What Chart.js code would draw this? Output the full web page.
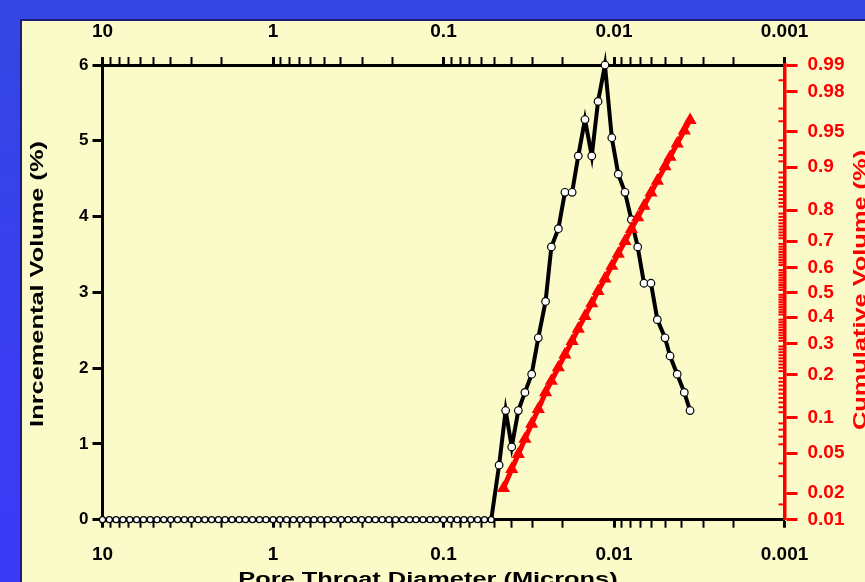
<!DOCTYPE html>
<html>
<head>
<meta charset="utf-8">
<script src="https://cdn.jsdelivr.net/npm/chart.js@4.4.1/dist/chart.umd.min.js"></script>
<style>
  html, body { margin: 0; padding: 0; }
  body { width: 865px; height: 582px; overflow: hidden; position: relative;
         background: linear-gradient(to bottom, #3447e2 0%, #3a3ef2 60%, #3b3af6 100%); }
  #panel { position: absolute; left: 20px; top: 19px; width: 900px; height: 600px;
           background: #fbfbc9; border: 2px solid #1f1a72; }
  #c { position: absolute; left: 0; top: 0; }
</style>
</head>
<body>
<div id="panel"></div>
<canvas id="c" width="865" height="582"></canvas>
<script>
// pore throat size distribution: incremental volume (black) + cumulative volume on probability axis (red)

const poreDiameter = [
  10, 9.12, 8.32, 7.59, 6.92, 6.31, 5.75, 5.25, 4.79, 4.37, 3.98, 3.63, 3.31, 3.02, 2.75, 2.51, 2.29, 2.09, 1.91, 1.74, 1.58, 1.45, 1.32, 1.20, 1.10,
  1.0, 0.912, 0.832, 0.759, 0.692, 0.631, 0.575, 0.525, 0.479, 0.437, 0.398, 0.363, 0.331, 0.302, 0.275, 0.251, 0.229, 0.209, 0.191, 0.174, 0.158, 0.145, 0.132, 0.120, 0.110,
  0.100, 0.0912, 0.0832, 0.0759, 0.0692, 0.0631, 0.0575, 0.0525,
  0.0472, 0.0432, 0.0398, 0.0364, 0.0333, 0.0304, 0.0278, 0.0252, 0.0233, 0.0212, 0.0194, 0.0176, 0.0162, 0.0148, 0.0135,
  0.0124, 0.0113, 0.0103, 0.00944, 0.00862, 0.00791, 0.00726, 0.00667, 0.00607, 0.00557, 0.00502, 0.00469, 0.00426, 0.00387, 0.00358
];
const incrementalVolume = [
  0, 0, 0, 0, 0, 0, 0, 0, 0, 0, 0, 0, 0, 0, 0, 0, 0, 0, 0, 0, 0, 0, 0, 0, 0,
  0, 0, 0, 0, 0, 0, 0, 0, 0, 0, 0, 0, 0, 0, 0, 0, 0, 0, 0, 0, 0, 0, 0, 0, 0,
  0, 0, 0, 0, 0, 0, 0, 0,
  0.72, 1.44, 0.96, 1.44, 1.68, 1.92, 2.40, 2.88, 3.60, 3.84, 4.32, 4.32, 4.80, 5.28, 4.80,
  5.52, 6.00, 5.04, 4.56, 4.32, 3.96, 3.60, 3.12, 3.12, 2.64, 2.40, 2.16, 1.92, 1.68, 1.44
];

const cumDiameter = [
  0.0445, 0.0398, 0.0364, 0.0333, 0.0304, 0.0278, 0.0252, 0.0233, 0.0212, 0.0194, 0.0176, 0.0162, 0.0148, 0.0135,
  0.0124, 0.0113, 0.0103, 0.00944, 0.00862, 0.00791, 0.00726, 0.00667, 0.00607, 0.00557, 0.00502, 0.00469, 0.00426, 0.00387, 0.00358
];
const cumulativeVolume = [
  0.0225, 0.0352, 0.0489, 0.0667, 0.0891, 0.116, 0.153, 0.182, 0.221, 0.262, 0.309, 0.354, 0.404, 0.455,
  0.505, 0.556, 0.606, 0.653, 0.700, 0.741, 0.778, 0.812, 0.846, 0.873, 0.901, 0.917, 0.936, 0.951, 0.961
];

const diameterTicks = [10, 1, 0.1, 0.01, 0.001];
const cumulativeTicks = [0.01, 0.02, 0.05, 0.1, 0.2, 0.3, 0.4, 0.5, 0.6, 0.7, 0.8, 0.9, 0.95, 0.98, 0.99];

const FONT = "'Liberation Sans', Arial, sans-serif";

// inverse normal cdf (Acklam) – used for the probability axis
function probit(p) {
  const a = [-39.69683028665376, 220.9460984245205, -275.9285104469687, 138.3577518672690, -30.66479806614716, 2.506628277459239];
  const b = [-54.47609879822406, 161.5858368580409, -155.6989798598866, 66.80131188771972, -13.28068155288572];
  const c = [-0.007784894002430293, -0.3223964580411365, -2.400758277161838, -2.549671180339187, 4.374664141464968, 2.938163982698783];
  const d = [0.007784695709041462, 0.3224671290700398, 2.445134137142996, 3.754408661907416];
  const pl = 0.02425;
  if (p < pl) {
    const q = Math.sqrt(-2 * Math.log(p));
    return (((((c[0]*q+c[1])*q+c[2])*q+c[3])*q+c[4])*q+c[5]) / ((((d[0]*q+d[1])*q+d[2])*q+d[3])*q+1);
  }
  if (p > 1 - pl) {
    const q = Math.sqrt(-2 * Math.log(1 - p));
    return -(((((c[0]*q+c[1])*q+c[2])*q+c[3])*q+c[4])*q+c[5]) / ((((d[0]*q+d[1])*q+d[2])*q+d[3])*q+1);
  }
  const q = p - 0.5, r = q * q;
  return (((((a[0]*r+a[1])*r+a[2])*r+a[3])*r+a[4])*r+a[5])*q / (((((b[0]*r+b[1])*r+b[2])*r+b[3])*r+b[4])*r+1);
}

function logTicks(scale) {
  const t = [];
  diameterTicks.forEach(d => {
    t.push({ value: d });
    if (d < 10) for (let m = 2; m <= 9; m++) t.push({ value: +(d * m).toPrecision(3) });
  });
  scale.ticks = t.sort((a, b) => a.value - b.value);
}

const xAxis = (position, height, pad) => ({
  type: "logarithmic",
  position,
  reverse: true,
  min: 0.001,
  max: 10,
  afterBuildTicks: logTicks,
  afterFit: s => { s.height = height; },
  border: { color: "#000", width: 3 },
  grid: {
    drawOnChartArea: false,
    tickLength: 8,
    tickColor: "#000",
    tickWidth: ctx => (diameterTicks.includes(ctx.tick && ctx.tick.value) ? 3 : 2),
  },
  ticks: {
    autoSkip: false,
    maxRotation: 0,
    padding: pad,
    color: "#000",
    font: { family: FONT, size: 19, weight: "bold" },
    callback: v => (diameterTicks.includes(v) ? String(v) : ""),
  },
});

// axis titles are drawn stretched along the text, like the original
const titles = {
  id: "titles",
  afterDraw(chart) {
    const ctx = chart.ctx;
    const y2 = chart.scales.y2;
    ctx.save();
    // minor ticks on the probability axis, pointing inward
    ctx.strokeStyle = "#ff0000";
    ctx.lineWidth = 2;
    for (let k = 2; k <= 98; k++) {
      const p = k / 100;
      if (cumulativeTicks.includes(p)) continue;
      const py = y2.getPixelForValue(probit(p));
      ctx.beginPath(); ctx.moveTo(y2.left - 6, py); ctx.lineTo(y2.left, py); ctx.stroke();
    }
    [0.015, 0.985].forEach(p => {
      const py = y2.getPixelForValue(probit(p));
      ctx.beginPath(); ctx.moveTo(y2.left - 6, py); ctx.lineTo(y2.left, py); ctx.stroke();
    });
    ctx.restore();

    const draw = (text, x, y, rot, color) => {
      ctx.save();
      ctx.translate(x, y);
      ctx.rotate(rot);
      ctx.scale(1.41, 1);
      ctx.font = "bold 18px " + FONT;
      ctx.fillStyle = color;
      ctx.textAlign = "center";
      ctx.textBaseline = "alphabetic";
      ctx.fillText(text, 0, 0);
      ctx.restore();
    };
    draw("Inrcemental Volume (%)", 43, 284, -Math.PI / 2, "#000");
    draw("Cumulative Volume (%)", 866, 290, -Math.PI / 2, "#ff0000");
    draw("Pore Throat Diameter (Microns)", 428, 585, 0, "#000");
  },
};

new Chart(document.getElementById("c"), {
  type: "line",
  data: {
    datasets: [
      {
        label: "Cumulative Volume",
        data: cumDiameter.map((d, i) => ({ x: d, y: probit(cumulativeVolume[i]) })),
        xAxisID: "x",
        yAxisID: "y2",
        order: 0,
        borderColor: "#ff0000",
        borderWidth: 5,
        pointStyle: "triangle",
        pointRadius: 2.6,
        pointBackgroundColor: "#ff0000",
        pointBorderColor: "#ff0000",
        tension: 0,
        clip: false,
      },
      {
        label: "Incremental Volume",
        data: poreDiameter.map((d, i) => ({ x: d, y: incrementalVolume[i] })),
        xAxisID: "x",
        yAxisID: "y",
        order: 1,
        borderColor: "#000",
        borderWidth: 4,
        borderJoinStyle: "miter",
        pointRadius: ctx => (incrementalVolume[ctx.dataIndex] === 0 ? 3 : 3.8),
        pointBackgroundColor: "#fff",
        pointBorderColor: "#000",
        pointBorderWidth: 1.2,
        tension: 0,
        clip: false,
      },
    ],
  },
  options: {
    responsive: false,
    animation: false,
    layout: { padding: 0 },
    plugins: { legend: { display: false }, tooltip: { enabled: false } },
    scales: {
      x: xAxis("bottom", 62.3, 16),
      xTop: xAxis("top", 65, 14),
      y: {
        position: "left",
        min: 0,
        max: 6,
        afterFit: s => { s.width = 102.5; },
        border: { color: "#000", width: 3 },
        grid: { drawOnChartArea: false, tickLength: 10, tickColor: "#000", tickWidth: 3 },
        ticks: { stepSize: 1, padding: 4, color: "#000", font: { family: FONT, size: 17, weight: "bold" } },
      },
      y2: {
        position: "right",
        bounds: "data",
        min: probit(0.01),
        max: probit(0.99),
        afterFit: s => { s.width = 80.5; },
        afterBuildTicks: s => { s.ticks = cumulativeTicks.map(p => ({ value: probit(p) })); },
        border: { color: "#ff0000", width: 3.5 },
        grid: { drawOnChartArea: false, tickLength: 13, tickColor: "#ff0000", tickWidth: 3 },
        ticks: {
          autoSkip: false,
          padding: 10,
          color: "#ff0000",
          font: { family: FONT, size: 19, weight: "bold" },
          callback: (v, i) => String(cumulativeTicks[i]),
        },
      },
    },
  },
  plugins: [titles],
});
</script>
</body>
</html>
